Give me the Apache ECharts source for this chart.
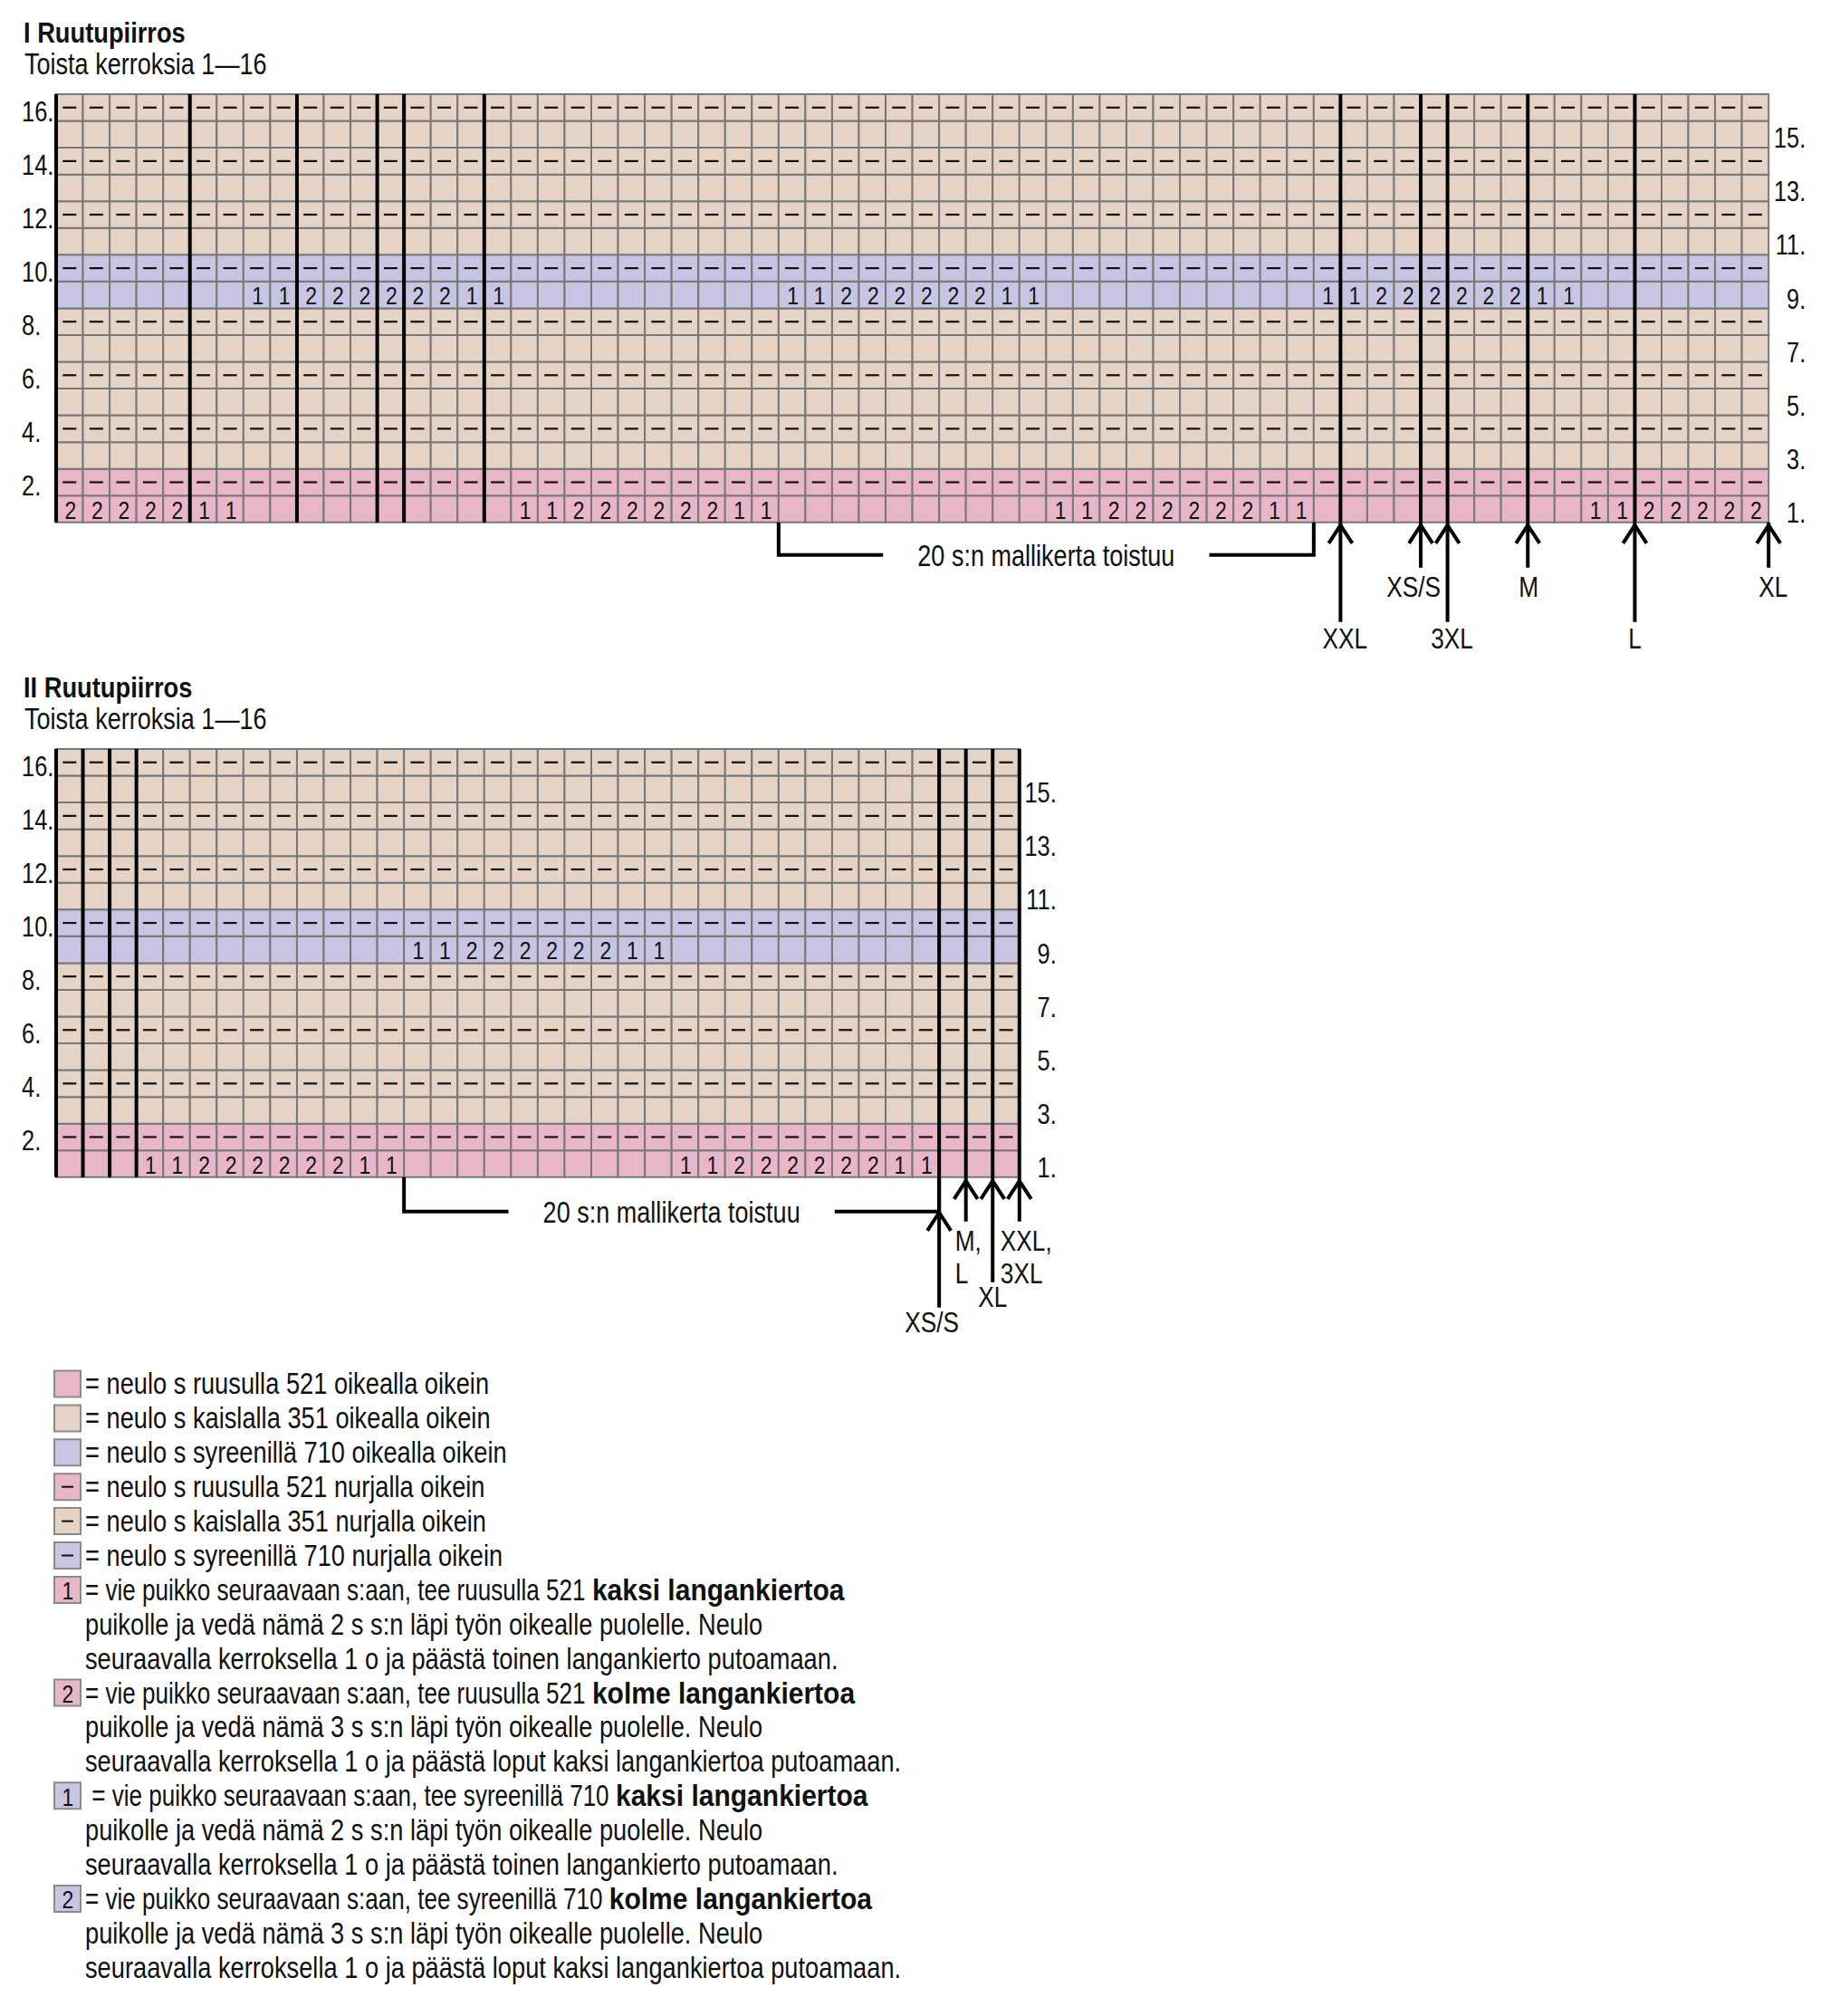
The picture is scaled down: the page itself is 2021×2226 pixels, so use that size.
<!DOCTYPE html>
<html><head><meta charset="utf-8">
<script src="https://cdn.jsdelivr.net/npm/echarts@6/dist/echarts.min.js"></script>
<style>html,body{margin:0;padding:0;background:#fff}#c{width:2021px;height:2226px}</style>
</head><body><div id="c"></div>
<script>
// ---------- DATA ----------
const rowLabels = ['1.','2.','3.','4.','5.','6.','7.','8.','9.','10.','11.','12.','13.','14.','15.','16.'];
const rowYarn = ['pink','pink','beige','beige','beige','beige','beige','beige','lilac','lilac','beige','beige','beige','beige','beige','beige'];
const rowStitch = ['knit','purl','knit','purl','knit','purl','knit','purl','knit','purl','knit','purl','knit','purl','knit','purl'];

const chartTitles = ['I Ruutupiirros', 'II Ruutupiirros'];
const chartSubtitle = 'Toista kerroksia 1\u201416';
const repeatLabel = '20 s:n mallikerta toistuu';

const chart1Columns = 64;
const chart1Motifs = {
  1: '2222211' + '..........' + '1122222211' + '..........' + '1122222211' + '..........' + '1122222',
  9: '.......' + '1122222211' + '..........' + '1122222211' + '..........' + '1122222211' + '.......'
};
const chart1ThickLines = [0, 5, 9, 12, 13, 16, 48, 51, 52, 55, 59];
const chart1SizeCols = [48, 51, 52, 55, 59, 64];
const chart1Sizes = ['XXL', 'XS/S', '3XL', 'M', 'L', 'XL'];
const chart1Repeat = [27, 47];

const chart2Columns = 36;
const chart2Motifs = {
  1: '...' + '1122222211' + '..........' + '1122222211' + '...',
  9: '..........' + '...' + '1122222211' + '..........' + '...'
};
const chart2ThickLines = [0, 1, 2, 3, 33, 34, 35, 36];
const chart2SizeCols = [33, 34, 35, 36];
const chart2Sizes = ['XS/S', 'M,\nL', 'XL', 'XXL,\n3XL'];
const chart2Repeat = [13, 33];

const legendYarn = ['pink','beige','lilac','pink','beige','lilac','pink','pink','lilac','lilac'];
const legendSymbol = ['', '', '', '-', '-', '-', '1', '2', '1', '2'];
const legendTexts = [
  [['= neulo s ruusulla 521 oikealla oikein']],
  [['= neulo s kaislalla 351 oikealla oikein']],
  [['= neulo s syreenillä 710 oikealla oikein']],
  [['= neulo s ruusulla 521 nurjalla oikein']],
  [['= neulo s kaislalla 351 nurjalla oikein']],
  [['= neulo s syreenillä 710 nurjalla oikein']],
  [['= vie puikko seuraavaan s:aan, tee ruusulla 521', 'kaksi langankiertoa'],
   ['puikolle ja vedä nämä 2 s s:n läpi työn oikealle puolelle. Neulo'],
   ['seuraavalla kerroksella 1 o ja päästä toinen langankierto putoamaan.']],
  [['= vie puikko seuraavaan s:aan, tee ruusulla 521', 'kolme langankiertoa'],
   ['puikolle ja vedä nämä 3 s s:n läpi työn oikealle puolelle. Neulo'],
   ['seuraavalla kerroksella 1 o ja päästä loput kaksi langankiertoa putoamaan.']],
  [['\u00a0= vie puikko seuraavaan s:aan, tee syreenillä 710', 'kaksi langankiertoa'],
   ['puikolle ja vedä nämä 2 s s:n läpi työn oikealle puolelle. Neulo'],
   ['seuraavalla kerroksella 1 o ja päästä toinen langankierto putoamaan.']],
  [['= vie puikko seuraavaan s:aan, tee syreenillä 710', 'kolme langankiertoa'],
   ['puikolle ja vedä nämä 3 s s:n läpi työn oikealle puolelle. Neulo'],
   ['seuraavalla kerroksella 1 o ja päästä loput kaksi langankiertoa putoamaan.']]
];

// ---------- STYLE / LAYOUT ----------
const FONT = '"Liberation Sans",Arial,sans-serif';
const SX = 0.82;              // horizontal squeeze to imitate a narrow face
const YARN_COLORS = { pink: '#e9b6c9', beige: '#e5d3c5', lilac: '#c7c5e3' };
const GRID_LINE = '#787878';
const INK = '#111111';
const CELL = 29.55;
const GRIDS = [
  { left: 62, top: 104, cols: chart1Columns },
  { left: 62, top: 827, cols: chart2Columns }
];
const sizeLayout1 = [
  { tip: 2, end: 110, labelTop: 110, dx: 5, align: 'center' },
  { tip: 2, end: 50, labelTop: 53, dx: -8, align: 'center' },
  { tip: 2, end: 110, labelTop: 110, dx: 5, align: 'center' },
  { tip: 2, end: 50, labelTop: 53, dx: 1, align: 'center' },
  { tip: 2, end: 110, labelTop: 110, dx: 0, align: 'center' },
  { tip: 2, end: 50, labelTop: 53, dx: 5, align: 'center' }
];
const sizeLayout2 = [
  { tip: 38, end: 144, labelTop: 142, dx: -8, align: 'center' },
  { tip: 3, end: 49, labelTop: 52, dx: -12, align: 'left' },
  { tip: 3, end: 116, labelTop: 114, dx: 0, align: 'center' },
  { tip: 3, end: 49, labelTop: 52, dx: -21, align: 'left' }
];
const bracketDrop = [36, 38];
const LEG_TOP = 1528, LEG_GAP = 37.9;

const measureCtx = document.createElement('canvas').getContext('2d');
function textWidth(t, font) { measureCtx.font = font; return measureCtx.measureText(t).width; }

function nText(x, y, text, size, o) {
  o = o || {};
  return { type: 'text', x, y, scaleX: o.sx || SX, scaleY: 1,
    style: { text, font: (o.bold ? 'bold ' : '') + size + 'px ' + FONT, fill: INK,
      align: o.align || 'left', verticalAlign: o.va || 'middle', lineHeight: o.lh } };
}

// ---------- BUILD ----------
function buildCells(cols, motifs) {
  const cells = [];
  for (let r = 0; r < 16; r++) {
    for (let c = 0; c < cols; c++) {
      let sym = '';
      if (rowStitch[r] === 'purl') sym = '-';
      else if (motifs[r + 1]) { const ch = motifs[r + 1][c]; sym = (ch && ch !== '.') ? ch : ''; }
      cells.push({ col: c, row: r, yarn: rowYarn[r], sym });
    }
  }
  return cells;
}

function cellRenderer(cells) {
  return function (params, api) {
    const cell = cells[params.dataIndex];
    const p = api.coord([cell.col, cell.row]);
    const sz = api.size([1, 1]);
    const w = sz[0], h = sz[1];
    const x = p[0], y = p[1] - h / 2;
    const children = [{
      type: 'rect', shape: { x, y, width: w, height: h },
      style: { fill: YARN_COLORS[cell.yarn], stroke: GRID_LINE, lineWidth: 2 }
    }];
    if (cell.sym === '-') {
      children.push({ type: 'line', shape: { x1: x + w / 2 - 7.5, y1: p[1], x2: x + w / 2 + 7.5, y2: p[1] },
        style: { stroke: INK, lineWidth: 2.2 } });
    } else if (cell.sym) {
      children.push(nText(x + w / 2 + 1, p[1] + 1, cell.sym, 28, { align: 'center' }));
    }
    return { type: 'group', children };
  };
}

function rowLabelRenderer(gi, cols) {
  return function (params, api) {
    const r = api.value(1);
    const p = api.coord([r % 2 === 1 ? 0 : cols, r]);
    const left = r % 2 === 1;
    return nText(left ? p[0] - 38 : p[0] + 41, p[1] + 4, rowLabels[r], 31, { align: left ? 'left' : 'right' });
  };
}

function thickRenderer(params, api) {
  const b = api.value(0);
  const pb = api.coord([b, 0]);
  const pt = api.coord([b, 15]);
  const h = api.size([0, 1])[1];
  return { type: 'line', shape: { x1: pb[0], y1: pt[1] - h / 2, x2: pb[0], y2: pb[1] + h / 2 },
    style: { stroke: '#000', lineWidth: 4 } };
}

function sizeRenderer(layouts, labels) {
  return function (params, api) {
    const i = params.dataIndex, L = layouts[i];
    const p = api.coord([api.value(0), 0]);
    const h = api.size([0, 1])[1];
    const bottom = p[1] + h / 2, x = p[0], tipY = bottom + L.tip;
    return { type: 'group', children: [
      { type: 'line', shape: { x1: x, y1: bottom, x2: x, y2: bottom + L.end }, style: { stroke: '#000', lineWidth: 4 } },
      { type: 'polyline', shape: { points: [[x - 13, tipY + 21], [x, tipY + 1], [x + 13, tipY + 21]] },
        style: { stroke: '#000', lineWidth: 4, fill: 'none', lineJoin: 'miter' } },
      nText(x + L.dx, bottom + L.labelTop, labels[i], 32, { align: L.align, va: 'top', lh: 36.5 })
    ] };
  };
}

function bracketRenderer(range, drop) {
  return function (params, api) {
    const p1 = api.coord([range[0], 0]);
    const p2 = api.coord([range[1], 0]);
    const h = api.size([0, 1])[1];
    const bottom = p1[1] + h / 2, by = bottom + drop;
    const tw = textWidth(repeatLabel, '33px ' + FONT) * SX;
    const cx = (p1[0] + p2[0]) / 2, gap = 38;
    return { type: 'group', children: [
      { type: 'polyline', shape: { points: [[p1[0], bottom], [p1[0], by], [cx - tw / 2 - gap, by]] },
        style: { stroke: '#000', lineWidth: 4, fill: 'none' } },
      { type: 'polyline', shape: { points: [[cx + tw / 2 + gap, by], [p2[0], by], [p2[0], bottom]] },
        style: { stroke: '#000', lineWidth: 4, fill: 'none' } },
      nText(cx, by + 1, repeatLabel, 33, { align: 'center' })
    ] };
  };
}

const chartDefs = [
  { cols: chart1Columns, motifs: chart1Motifs, thick: chart1ThickLines, sizeCols: chart1SizeCols, sizes: chart1Sizes, layout: sizeLayout1, repeat: chart1Repeat },
  { cols: chart2Columns, motifs: chart2Motifs, thick: chart2ThickLines, sizeCols: chart2SizeCols, sizes: chart2Sizes, layout: sizeLayout2, repeat: chart2Repeat }
];

const grids = [], xAxes = [], yAxes = [], series = [], graphics = [];
chartDefs.forEach((d, gi) => {
  const G = GRIDS[gi];
  grids.push({ left: G.left, top: G.top, width: d.cols * CELL, height: 16 * CELL, containLabel: false, outerBoundsMode: 'none' });
  xAxes.push({ type: 'value', gridIndex: gi, min: 0, max: d.cols, show: false });
  yAxes.push({ type: 'category', gridIndex: gi, data: rowLabels, show: false });
  const cells = buildCells(d.cols, d.motifs);
  series.push({ type: 'custom', xAxisIndex: gi, yAxisIndex: gi, renderItem: cellRenderer(cells),
    data: cells.map(c => [c.col + 0.5, c.row]), z: 1, silent: true, clip: false });
  series.push({ type: 'custom', xAxisIndex: gi, yAxisIndex: gi, renderItem: rowLabelRenderer(gi, d.cols),
    data: rowLabels.map((l, r) => [0, r]), z: 2, silent: true, clip: false });
  series.push({ type: 'custom', xAxisIndex: gi, yAxisIndex: gi, renderItem: bracketRenderer(d.repeat, bracketDrop[gi]),
    data: [[d.repeat[0], 0]], z: 2, silent: true, clip: false });
  series.push({ type: 'custom', xAxisIndex: gi, yAxisIndex: gi, renderItem: thickRenderer,
    data: d.thick.map(b => [b, 0]), z: 3, silent: true, clip: false });
  series.push({ type: 'custom', xAxisIndex: gi, yAxisIndex: gi, renderItem: sizeRenderer(d.layout, d.sizes),
    data: d.sizeCols.map(b => [b, 0]), z: 4, silent: true, clip: false });
  // titles
  graphics.push(nText(26, G.top - 68, chartTitles[gi], 31, { bold: true, sx: 0.88 }));
  graphics.push(nText(27, G.top - 33, chartSubtitle, 33));
});

// legend
const LEG_SX = 0.826, LEG_BSX = 0.91, LEG_F = 33;
let lineNo = 0;
legendTexts.forEach((lines, k) => {
  const cy = LEG_TOP + lineNo * LEG_GAP;
  graphics.push({ type: 'rect', shape: { x: 60, y: cy - 14.5, width: 29, height: 29 },
    style: { fill: YARN_COLORS[legendYarn[k]], stroke: '#8a8a8a', lineWidth: 2 } });
  const s = legendSymbol[k];
  if (s === '-') {
    graphics.push({ type: 'line', shape: { x1: 68, y1: cy, x2: 81, y2: cy }, style: { stroke: INK, lineWidth: 2 } });
  } else if (s) {
    graphics.push(nText(75, cy + 1, s, 28, { align: 'center' }));
  }
  lines.forEach((parts, j) => {
    const y = cy + j * LEG_GAP;
    if (parts[1]) {
      const sx1 = 0.79;
      graphics.push(nText(94, y, parts[0], LEG_F, { sx: sx1 }));
      const w = textWidth(parts[0], LEG_F + 'px ' + FONT) * sx1;
      graphics.push(nText(94 + w + 7, y, parts[1], LEG_F, { sx: LEG_BSX, bold: true }));
    } else {
      graphics.push(nText(94, y, parts[0], LEG_F, { sx: LEG_SX }));
    }
  });
  lineNo += lines.length;
});

const chart = echarts.init(document.getElementById('c'), null, { renderer: 'svg', width: 2021, height: 2226 });
chart.setOption({
  animation: false,
  backgroundColor: '#ffffff',
  grid: grids, xAxis: xAxes, yAxis: yAxes, series,
  graphic: { elements: graphics }
});
</script>
</body></html>
